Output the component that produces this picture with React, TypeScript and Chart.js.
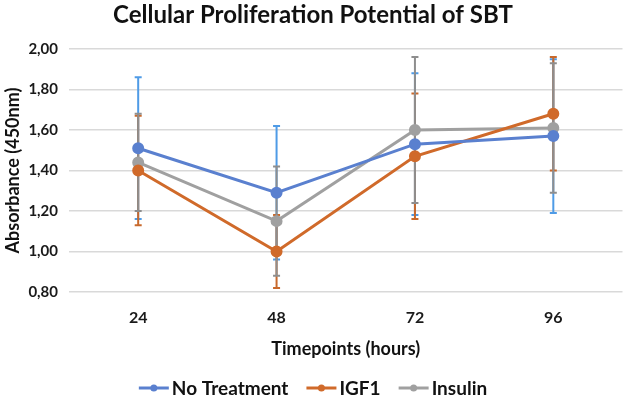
import React, { useEffect, useRef } from "react";
import { Chart, registerables } from "chart.js";

Chart.register(...registerables);

const categories = ["24", "48", "72", "96"];
const noTreatment = [1.51, 1.29, 1.53, 1.57];
const noTreatmentErr = [0.35, 0.33, 0.35, 0.38];
const igf1 = [1.4, 1.0, 1.47, 1.68];
const igf1Err = [0.27, 0.18, 0.31, 0.28];
const insulin = [1.44, 1.15, 1.6, 1.61];
const insulinErr = [0.24, 0.27, 0.36, 0.32];
const yTicks = [0.8, 1.0, 1.2, 1.4, 1.6, 1.8, 2.0];

const FONT = "Lato, 'Open Sans', 'DejaVu Sans', sans-serif";

const errors = [noTreatmentErr, igf1Err, insulinErr];
const errColors = ["#4F9BE6", "#C8692C", "#8E8E8E"];

const errorBarPlugin = {
  id: "errorBars",
  beforeDatasetsDraw(chart: any) {
    const ctx = chart.ctx;
    const y = chart.scales.y;
    chart.data.datasets.forEach((ds: any, i: number) => {
      const meta = chart.getDatasetMeta(i);
      ctx.save();
      ctx.strokeStyle = errColors[i];
      ctx.lineWidth = 2;
      meta.data.forEach((pt: any, j: number) => {
        const v = ds.data[j];
        const e = errors[i][j];
        const x = pt.x;
        const yTop = y.getPixelForValue(v + e);
        const yBot = y.getPixelForValue(v - e);
        ctx.beginPath();
        ctx.moveTo(x, yTop);
        ctx.lineTo(x, yBot);
        ctx.moveTo(x - 3.5, yTop);
        ctx.lineTo(x + 3.5, yTop);
        ctx.moveTo(x - 3.5, yBot);
        ctx.lineTo(x + 3.5, yBot);
        ctx.stroke();
      });
      ctx.restore();
    });
  },
};

const titleLegendPlugin = {
  id: "titleLegend",
  afterDraw(chart: any) {
    const ctx = chart.ctx;
    ctx.save();
    ctx.fillStyle = "#111111";
    ctx.font = `bold 24px ${FONT}`;
    ctx.textAlign = "center";
    ctx.textBaseline = "middle";
    ctx.fillText("Cellular Proliferation Potential of SBT", 313, 15);

    ctx.font = `bold 19px ${FONT}`;
    ctx.textAlign = "left";
    const items = chart.data.datasets.map((ds: any) => ({
      label: ds.label,
      color: ds.borderColor,
    }));
    const lineW = 30;
    const gapText = 3;
    const gapItem = 18;
    let total = 0;
    items.forEach((it: any, k: number) => {
      total += lineW + gapText + ctx.measureText(it.label).width;
      if (k < items.length - 1) total += gapItem;
    });
    let x = 313 - total / 2;
    const yy = 388;
    items.forEach((it: any) => {
      ctx.strokeStyle = it.color;
      ctx.lineWidth = 3;
      ctx.beginPath();
      ctx.moveTo(x, yy);
      ctx.lineTo(x + lineW, yy);
      ctx.stroke();
      ctx.fillStyle = it.color;
      ctx.beginPath();
      ctx.arc(x + lineW / 2, yy, 3.5, 0, Math.PI * 2);
      ctx.fill();
      x += lineW + gapText;
      ctx.fillStyle = "#111111";
      ctx.fillText(it.label, x, yy + 1);
      x += ctx.measureText(it.label).width + gapItem;
    });
    ctx.restore();
  },
};

export default function App() {
  const ref = useRef<HTMLCanvasElement>(null);
  useEffect(() => {
    if (!ref.current) return;
    const mk = (label: string, data: number[], color: string) => ({
      label,
      data,
      borderColor: color,
      backgroundColor: color,
      borderWidth: 3,
      pointRadius: 4.5,
      pointHoverRadius: 4.5,
      pointBackgroundColor: color,
      pointBorderColor: color,
      tension: 0,
    });
    const chart = new Chart(ref.current, {
      type: "line",
      data: {
        labels: categories,
        datasets: [
          mk("No Treatment", noTreatment, "#5A80CF"),
          mk("IGF1", igf1, "#D06A2A"),
          mk("Insulin", insulin, "#A0A0A0"),
        ],
      },
      options: {
        animation: false,
        responsive: false,
        maintainAspectRatio: false,
        layout: { padding: { left: 2, right: 4, top: 49, bottom: 40 } },
        plugins: {
          legend: { display: false },
          title: { display: false },
          tooltip: { enabled: false },
        },
        scales: {
          x: {
            type: "category",
            offset: true,
            grid: { display: false },
            border: { display: false },
            ticks: {
              color: "#1a1a1a",
              font: { family: FONT, size: 16, weight: "bold" },
              padding: 8,
            },
            title: {
              display: true,
              text: "Timepoints (hours)",
              color: "#111111",
              font: { family: FONT, size: 18, weight: "bold" },
              padding: { top: 1, bottom: 0 },
            },
            afterFit: (s: any) => {
              s.height = 68;
            },
          },
          y: {
            min: 0.8,
            max: 2.0,
            afterBuildTicks: (s: any) => {
              s.ticks = yTicks.map((v) => ({ value: v }));
            },
            grid: { color: "#D9D9D9", lineWidth: 1.5, drawTicks: false },
            border: { display: false },
            ticks: {
              color: "#1a1a1a",
              font: { family: FONT, size: 15, weight: "bold" },
              padding: 11,
              callback: (v: any) => Number(v).toFixed(2).replace(".", ","),
            },
            title: {
              display: true,
              text: "Absorbance (450nm)",
              color: "#111111",
              font: { family: FONT, size: 18, weight: "bold" },
              padding: { top: 0, bottom: 4 },
            },
            afterFit: (s: any) => {
              s.width = 67;
            },
          },
        },
      },
      plugins: [errorBarPlugin, titleLegendPlugin],
    });
    return () => chart.destroy();
  }, []);
  return (
    <div style={{ position: "absolute", left: 0, top: 0, width: 630, height: 400, background: "#fff" }}>
      <canvas ref={ref} width={630} height={400} style={{ width: 630, height: 400 }} />
    </div>
  );
}
